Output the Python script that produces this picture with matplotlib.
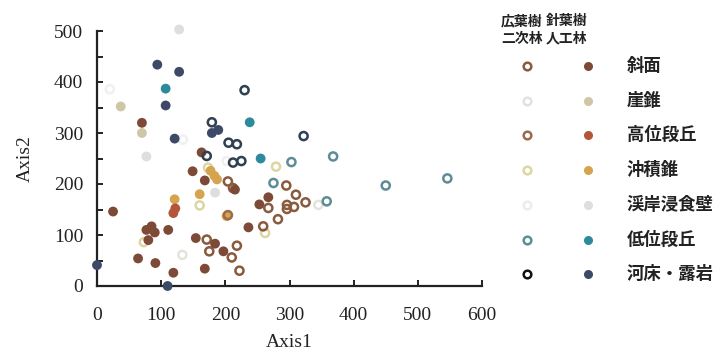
import matplotlib.pyplot as plt
from matplotlib.lines import Line2D
from matplotlib.ticker import MultipleLocator

# categories (legend order)
labels = ['斜面', '崖錐', '高位段丘', '沖積錐', '渓岸浸食壁', '低位段丘', '河床・露岩']
open_colors = ['#8a5a3e', '#e4e4de', '#9a6a4a', '#dcd6a2', '#f0f0f0', '#5e8d97', '#2e4052']
fill_colors = ['#7e4a38', '#cec6a6', '#b4543a', '#d6a44e', '#dedede', '#2d8a9c', '#3c4a68']
legend_open = ['#8a5a3e', '#e2e2dc', '#9a6a4a', '#dcd6a2', '#ececec', '#5e8d97', '#111111']

# 斜面
slope_open_x = [204, 212, 171, 218, 175, 210, 222, 259, 282, 267, 296, 307, 296, 295, 310, 325]
slope_open_y = [205, 192, 91, 79, 68, 56, 30, 117, 131, 153, 159, 155, 151, 197, 179, 164]
slope_fill_x = [70, 25, 77, 85, 90, 80, 111, 64, 91, 119, 154, 168, 184, 197, 149, 168, 215, 236, 253, 267, 163]
slope_fill_y = [320, 146, 110, 117, 105, 90, 110, 54, 45, 26, 94, 34, 83, 68, 225, 207, 189, 115, 160, 174, 262]
# 崖錐
talus_open_x = [133, 345]
talus_open_y = [61, 159]
talus_fill_x = [37, 70]
talus_fill_y = [352, 300]
# 高位段丘
high_open_x = [204]
high_open_y = [139]
high_fill_x = [119, 122]
high_fill_y = [143, 152]
# 沖積錐
fan_open_x = [160, 173, 279, 262, 73]
fan_open_y = [158, 232, 234, 104, 86]
fan_fill_x = [121, 160, 183, 187, 202, 177]
fan_fill_y = [170, 180, 216, 209, 137, 226]
# 渓岸浸食壁
bank_open_x = [20, 202, 134]
bank_open_y = [386, 245, 287]
bank_fill_x = [77, 184, 128]
bank_fill_y = [254, 183, 503]
# 低位段丘
low_open_x = [303, 275, 368, 450, 546, 358]
low_open_y = [243, 202, 254, 197, 211, 166]
low_fill_x = [107, 238, 255]
low_fill_y = [387, 321, 250]
# 河床・露岩
bed_open_x = [179, 205, 218, 212, 225, 230, 322, 171]
bed_open_y = [321, 281, 278, 242, 245, 384, 294, 255]
bed_fill_x = [94, 128, 107, 121, 179, 189, 0, 110]
bed_fill_y = [434, 420, 354, 289, 300, 306, 41, 0]

open_x = [slope_open_x, talus_open_x, high_open_x, fan_open_x, bank_open_x, low_open_x, bed_open_x]
open_y = [slope_open_y, talus_open_y, high_open_y, fan_open_y, bank_open_y, low_open_y, bed_open_y]
fill_x = [slope_fill_x, talus_fill_x, high_fill_x, fan_fill_x, bank_fill_x, low_fill_x, bed_fill_x]
fill_y = [slope_fill_y, talus_fill_y, high_fill_y, fan_fill_y, bank_fill_y, low_fill_y, bed_fill_y]

W, H = 724, 356
fig = plt.figure(figsize=(W / 100, H / 100), dpi=100)
ax = fig.add_axes([97 / W, 70 / H, 385 / W, 255 / H])

# faint ones first so the dark ones sit on top
zorders = [4, 2, 4, 3, 2, 5, 6]
for i in range(len(labels)):
    ax.scatter(open_x[i], open_y[i], s=34, facecolors='none', edgecolors=open_colors[i],
               linewidths=1.8, clip_on=False, zorder=zorders[i])
    ax.scatter(fill_x[i], fill_y[i], s=50, color=fill_colors[i], edgecolors='none',
               clip_on=False, zorder=zorders[i])

ax.set_xlim(0, 600)
ax.set_ylim(0, 500)
ax.xaxis.set_major_locator(MultipleLocator(100))
ax.yaxis.set_major_locator(MultipleLocator(100))
ax.yaxis.set_minor_locator(MultipleLocator(50))
ax.spines['top'].set_visible(False)
ax.spines['right'].set_visible(False)
for s in ['left', 'bottom']:
    ax.spines[s].set_linewidth(1.6)
    ax.spines[s].set_color('#222222')
ax.tick_params(axis='both', which='both', direction='in', length=4, width=1.4, color='#222222')
ax.tick_params(axis='y', which='major', pad=10)
ax.tick_params(axis='x', which='major', pad=15)
for t in ax.get_xticklabels() + ax.get_yticklabels():
    t.set_fontfamily('Liberation Serif')
    t.set_fontsize(14)
    t.set_color('#222222')
ax.set_xlabel('Axis1', fontfamily='Liberation Serif', fontsize=14, color='#222222', labelpad=7)
ax.set_ylabel('Axis2', fontfamily='Liberation Serif', fontsize=14, color='#222222', labelpad=14)

# legend drawn by hand: two marker columns + labels
jp = ['Noto Sans CJK JP', 'DejaVu Sans']
fig.text(522 / W, 1 - 30 / H, '広葉樹\n二次林', family=jp, fontsize=10, fontweight='bold',
         ha='center', va='center', linespacing=1.3, color='#222222')
fig.text(567 / W, 1 - 30 / H, '針葉樹\n人工林', family=jp, fontsize=10, fontweight='bold',
         ha='center', va='center', linespacing=1.3, color='#222222')
for i, lab in enumerate(labels):
    yy = 1 - (66 + i * 34.7) / H
    fig.add_artist(Line2D([527 / W], [yy], transform=fig.transFigure, marker='o', markersize=5.5,
                          markerfacecolor='none', markeredgecolor=legend_open[i], markeredgewidth=1.8))
    fig.add_artist(Line2D([588 / W], [yy], transform=fig.transFigure, marker='o', markersize=6.5,
                          markerfacecolor=fill_colors[i], markeredgecolor='none'))
    fig.text(627 / W, yy, lab, family=jp, fontsize=12.5, fontweight='bold', ha='left', va='center',
             color='#222222')

plt.savefig('out.png', dpi=100)
